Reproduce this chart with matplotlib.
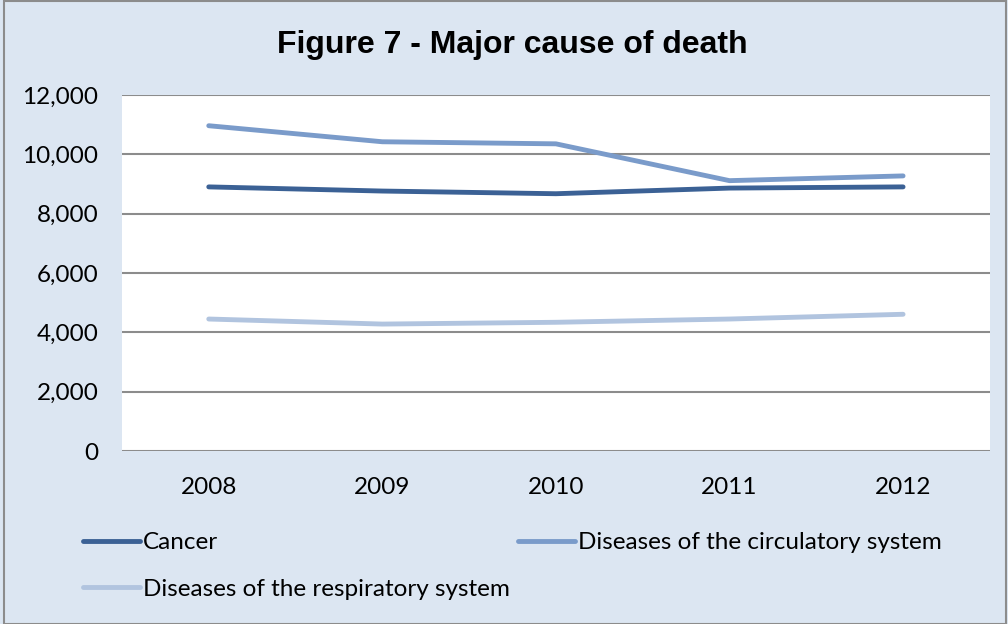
import matplotlib
matplotlib.use("Agg")
import matplotlib.pyplot as plt
from matplotlib.patches import Rectangle

# data
years = ["2008", "2009", "2010", "2011", "2012"]
cancer = [8900, 8760, 8670, 8860, 8900]
circulatory = [10960, 10420, 10350, 9110, 9270]
respiratory = [4450, 4280, 4340, 4450, 4610]

plt.rcParams['font.family'] = ['Lato', 'DejaVu Sans']

fig = plt.figure(figsize=(10.08, 6.24), dpi=100)
fig.patch.set_facecolor("#DCE6F2")
fig.patches.append(Rectangle((0.004, 0.0), 0.994, 0.998, transform=fig.transFigure,
                             fill=False, edgecolor="#8C8C8C", linewidth=1.5))

ax = fig.add_axes([0.121, 0.277, 0.861, 0.571])
ax.set_facecolor("white")

x = range(len(years))
l1, = ax.plot(x, cancer, color="#3B6195", lw=3.5, solid_capstyle="round", label="Cancer")
l2, = ax.plot(x, circulatory, color="#7A9BCA", lw=3.5, solid_capstyle="round",
              label="Diseases of the circulatory system")
l3, = ax.plot(x, respiratory, color="#B1C4DF", lw=3.5, solid_capstyle="round",
              label="Diseases of the respiratory system")

ax.set_xlim(-0.5, 4.5)
ax.set_ylim(0, 12000)
ax.set_yticks(range(0, 12001, 2000))
ax.set_yticklabels([f"{v:,}" for v in range(0, 12001, 2000)])
ax.set_xticks(list(x))
ax.set_xticklabels(years)
ax.grid(axis="y", color="#8C8C8C", linewidth=1.5)
ax.set_axisbelow(True)
for s in ax.spines.values():
    s.set_visible(False)
ax.tick_params(length=0, labelsize=17.5, colors="black")
ax.tick_params(axis="y", pad=17)
ax.tick_params(axis="x", pad=18.5)

fig.text(0.508, 0.928, "Figure 7 - Major cause of death", ha="center", va="center",
         fontsize=23, fontweight="bold", family="Liberation Sans")

fig.legend([l1, l3, l2], [l1.get_label(), l3.get_label(), l2.get_label()],
           loc="upper left", bbox_to_anchor=(0.082, 0.147), ncol=2, frameon=False,
           fontsize=17.5, handlelength=2.35, handletextpad=0.12, columnspacing=0.33,
           labelspacing=1.05, borderaxespad=0, borderpad=0)

fig.savefig("out.png", dpi=100, facecolor=fig.get_facecolor())
